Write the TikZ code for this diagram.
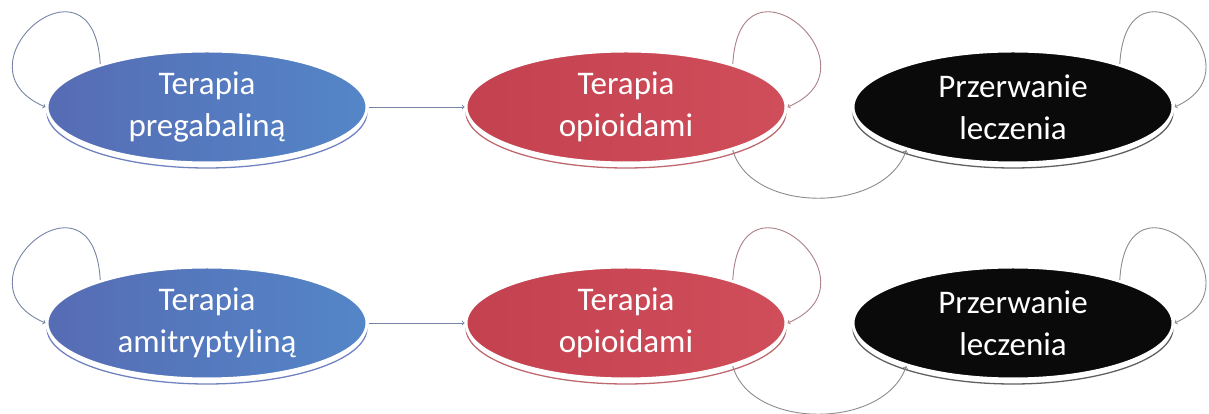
\documentclass[tikz,border=0pt]{standalone}
\usepackage{xcolor}
\usepackage{fontspec}
\setmainfont{Carlito}
\usepackage{tikz}
\usetikzlibrary{shapes, arrows, positioning, shadows}

\definecolor{blueL}{RGB}{86,108,180}
\definecolor{blueM}{RGB}{62,114,186}
\definecolor{blueR}{RGB}{84,134,200}
\definecolor{redL}{RGB}{196,66,80}
\definecolor{redM}{RGB}{194,60,70}
\definecolor{redR}{RGB}{208,78,90}
\definecolor{nearblack}{RGB}{10,10,10}
\definecolor{blueRim}{RGB}{112,130,192}
\definecolor{redRim}{RGB}{190,104,112}
\definecolor{blackRim}{RGB}{96,96,96}
\definecolor{blueLine}{RGB}{118,132,165}
\definecolor{redLine}{RGB}{170,128,134}
\definecolor{greyLine}{RGB}{140,140,140}

\begin{document}
\begin{tikzpicture}[x=1pt, y=1pt, node distance=96pt,
    state/.style={ellipse, minimum width=320pt, minimum height=112pt, inner sep=0pt,
        draw=white, line width=3pt, text=white, align=center,
        font=\fontsize{33}{42}\selectfont},
    bluestate/.style={state, left color=blueL, middle color=blueM, right color=blueR,
        general shadow={shadow yshift=-5pt, draw=blueRim, line width=1.3pt}},
    redstate/.style={state, left color=redL, middle color=redM, right color=redR,
        general shadow={shadow yshift=-5pt, draw=redRim, line width=1.3pt}},
    blackstate/.style={state, fill=nearblack,
        general shadow={shadow yshift=-5pt, draw=blackRim, line width=1.3pt}},
    link/.style={->, line width=0.9pt}]
        \useasboundingbox (0,0) rectangle (1209,414);

        % first row
        \node (preg) [bluestate] at (207,307) {Terapia\\pregabaliną};
        \node (opi1) [redstate, right=96pt of preg] {Terapia\\opioidami};
        \node (stop1) [blackstate, right=64pt of opi1] {Przerwanie\\leczenia};

        % second row
        \node (ami) [bluestate, below=101pt of preg] {Terapia\\amitryptyliną};
        \node (opi2) [redstate, right=96pt of ami] {Terapia\\opioidami};
        \node (stop2) [blackstate, right=64pt of opi2] {Przerwanie\\leczenia};

        \draw[link, draw=blueLine] (preg.158) .. controls +(-7,122) and +(-96,40) .. (preg.west);
        \draw[link, draw=blueLine] (preg) -- (opi1);
        \draw[link, draw=redLine] (opi1.22) .. controls +(7,122) and +(96,40) .. (opi1.east);
        \draw[link, draw=greyLine] (opi1.-22) .. controls +(18,-64) and +(-22,-64) .. (stop1.202);
        \draw[link, draw=greyLine] (stop1.22) .. controls +(7,122) and +(92,40) .. (stop1.east);

        \draw[link, draw=blueLine] (ami.158) .. controls +(-7,122) and +(-96,40) .. (ami.west);
        \draw[link, draw=blueLine] (ami) -- (opi2);
        \draw[link, draw=redLine] (opi2.22) .. controls +(7,122) and +(96,40) .. (opi2.east);
        \draw[link, draw=greyLine] (opi2.-22) .. controls +(18,-64) and +(-22,-64) .. (stop2.202);
        \draw[link, draw=greyLine] (stop2.22) .. controls +(7,122) and +(92,40) .. (stop2.east);
    \end{tikzpicture}
\end{document}
